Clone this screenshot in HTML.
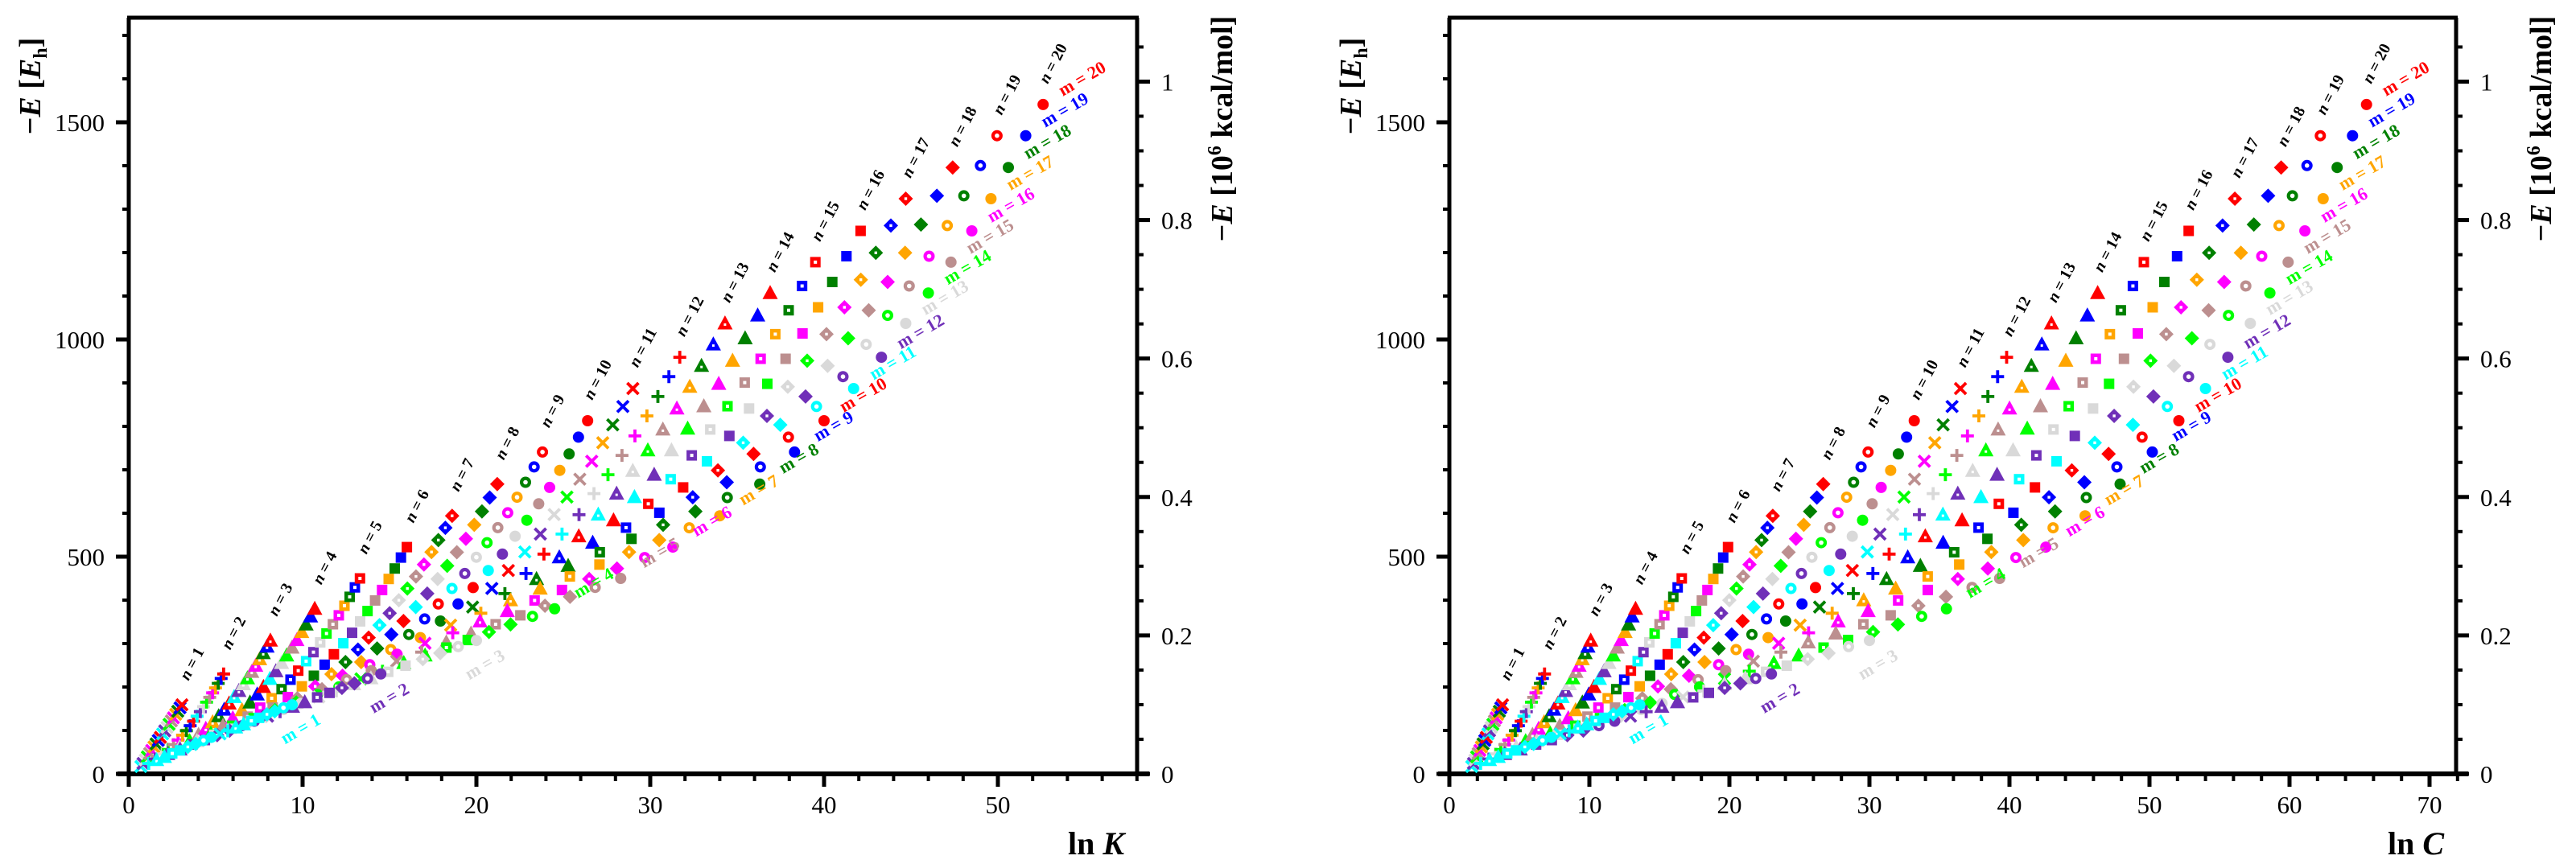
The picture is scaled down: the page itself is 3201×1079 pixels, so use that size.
<!DOCTYPE html>
<html><head><meta charset="utf-8">
<style>
html,body{margin:0;padding:0;background:#fff;}
svg{display:block;}
text{font-family:"Liberation Serif","DejaVu Serif",serif;}
</style></head>
<body>
<svg id="chart" width="3201" height="1079" viewBox="0 0 3201 1079" xmlns="http://www.w3.org/2000/svg">
<g id="panelL"></g>
<g id="panelR"></g>
</svg>
<script>
// ---- data ----
const nValues = [1,2,3,4,5,6,7,8,9,10,11,12,13,14,15,16,17,18,19,20];
const mValues = [1,2,3,4,5,6,7,8,9,10,11,12,13,14,15,16,17,18,19,20];
// energy along edges (shared): E(n,20) per n  and E(1,m) per m
const edgeTopE = [159,230,307,380,450,522,594,667,741,813,887,959,1037,1107,1178,1250,1324,1396,1469,1541];
const edgeN1E  = [17,24,32,39,47,54,62,69,77,84,92,99,107,114,122,129,137,144,152,159];
// left panel ln K edges
const leftTopX = [3.06,5.46,8.15,10.7,13.3,16.0,18.6,21.2,23.8,26.4,29.0,31.7,34.3,36.9,39.5,42.1,44.7,47.4,49.95,52.6];
const leftEndX = [9.4,14.5,20.0,24.5,28.3,31.3,34.0,36.3,38.3,40.0,41.7,43.3,44.7,46.0,47.3,48.5,49.6,50.6,51.6,52.6];
const leftN1X  = [0.7,0.82,0.95,1.07,1.2,1.32,1.45,1.57,1.7,1.82,1.95,2.07,2.2,2.32,2.45,2.57,2.7,2.82,2.95,3.06];
const leftM1X  = [0.7,1.15,1.6,2.05,2.5,2.95,3.4,3.85,4.3,4.75,5.25,5.7,6.15,6.6,7.05,7.5,7.95,8.4,8.9,9.4];
// right panel ln C edges
const rightTopX = [3.8,6.8,10.1,13.3,16.6,19.9,23.1,26.7,29.9,33.2,36.5,39.8,43.0,46.3,49.6,52.8,56.1,59.4,62.2,65.5];
const rightEndX = [13.6,23.0,30.0,35.5,39.3,42.6,45.4,47.9,50.2,52.1,54.0,55.6,57.2,58.6,59.9,61.1,62.4,63.4,64.5,65.5];
const rightN1X  = [1.6,1.72,1.83,1.95,2.06,2.18,2.29,2.41,2.53,2.64,2.76,2.87,2.99,3.11,3.22,3.34,3.45,3.57,3.68,3.8];
const rightM1X  = [1.6,2.23,2.86,3.49,4.13,4.76,5.39,6.02,6.65,7.28,7.92,8.55,9.18,9.81,10.44,11.07,11.71,12.34,12.97,13.6];
// axis ticks
const yTicksMajor = [0,500,1000,1500];
const kcalTicks = ["0","0.2","0.4","0.6","0.8","1"];
const leftXTicks = [0,10,20,30,40,50];
const rightXTicks = [0,10,20,30,40,50,60,70];

const colors = ["#00ffff","#7030b8","#d9d9d9","#00ff00","#bc8f8f","#ff00ff","#ffa500","#008000","#0000ff","#ff0000"];
const shapes = ["x","plus","tridot","tri","sqdot","sq","diadot","dia","circdot","circ"];
const NS="http://www.w3.org/2000/svg";
function mk(tag,attrs,parent){const e=document.createElementNS(NS,tag);for(const k in attrs)e.setAttribute(k,attrs[k]);parent.appendChild(e);return e;}

function drawPanel(g,cfg){
  const yE=e=>962-e*0.54;
  const xS=v=>cfg.x0+v*cfg.sx;
  const L=cfg.x0, R=cfg.xr;
  let a;
  a=mk('line',{x1:L,y1:22,x2:L,y2:962,stroke:'#000','stroke-width':5},g);
  
  a=mk('line',{x1:R,y1:22,x2:R,y2:962,stroke:'#000','stroke-width':5},g);
  
  a=mk('line',{x1:L-2,y1:22,x2:R+2,y2:22,stroke:'#000','stroke-width':5},g);
  
  a=mk('line',{x1:L-14,y1:962,x2:R+15,y2:962,stroke:'#000','stroke-width':6},g);
  
  for(let e=0;e<=1700;e+=100){
    const maj=e%500===0;
    mk('line',{x1:L-(maj?16:8),y1:yE(e),x2:L,y2:yE(e),stroke:'#000','stroke-width':maj?5:4},g);
  }
  yTicksMajor.forEach(e=>{
    const t=mk('text',{x:L-30,y:yE(e)+11,'font-size':31,'text-anchor':'end'},g);
    t.textContent=String(e);
    
  });
  const kc=1593.6;
  for(let i=0;i<=21;i++){
    const v=i*0.05, maj=i%4===0;
    mk('line',{x1:R,y1:yE(v*kc),x2:R+(maj?16:8),y2:yE(v*kc),stroke:'#000','stroke-width':maj?5:4},g);
  }
  kcalTicks.forEach((s,i)=>{
    const t=mk('text',{x:R+30,y:yE(i*0.2*kc)+11,'font-size':31,'text-anchor':'start'},g);
    t.textContent=s;
    
  });
  for(let v=0;v<=cfg.xmax;v+=2){
    const maj=v%10===0;
    mk('line',{x1:xS(v),y1:962,x2:xS(v),y2:962+(maj?16:9),stroke:'#000','stroke-width':maj?5:4},g);
  }
  cfg.xticks.forEach(v=>{
    const t=mk('text',{x:xS(v),y:1011,'font-size':31,'text-anchor':'middle'},g);
    t.textContent=String(v);
    
  });
  let t=mk('text',{x:cfg.xlabelX,y:1062,'font-size':40,'font-weight':'bold','text-anchor':'middle'},g);
  t.innerHTML='ln <tspan font-style="italic">'+cfg.sym+'</tspan>';
  
  t=mk('text',{transform:`translate(${L-110},107) rotate(-90)`,'font-size':38,'font-weight':'bold','text-anchor':'middle'},g);
  t.innerHTML='−<tspan font-style="italic">E</tspan> [<tspan font-style="italic">E</tspan><tspan font-size="24" dy="8">h</tspan><tspan dy="-8">]</tspan>';
  
  t=mk('text',{transform:`translate(${R+118},160) rotate(-90)`,'font-size':38,'font-weight':'bold','text-anchor':'middle'},g);
  t.innerHTML='−<tspan font-style="italic">E</tspan> [10<tspan font-size="24" dy="-14">6</tspan><tspan dy="14"> kcal/mol]</tspan>';
  

  const tX=cfg.topX,eX=cfg.endX,nX=cfg.n1X,mX=cfg.m1X;
  function P(i,j){
    const u=i/19,v=j/19;
    const X=(1-u)*nX[j]+u*eX[j]+(1-v)*mX[i]+v*tX[i]
      -((1-u)*(1-v)*nX[0]+u*(1-v)*eX[0]+(1-u)*v*nX[19]+u*v*eX[19]);
    const Y=(1-u)*edgeN1E[j]+u*edgeTopE[j]+(1-v)*edgeN1E[i]+v*edgeTopE[i]
      -((1-u)*(1-v)*edgeN1E[0]+u*(1-v)*edgeTopE[0]+(1-u)*v*edgeN1E[19]+u*v*edgeTopE[19]);
    return [xS(X),yE(Y)];
  }
  const pg=mk('g',{},g);
  
  nValues.forEach((n,i)=>{
    mValues.forEach((m,j)=>{
      const [px,py]=P(i,j);
      const col=colors[(m-1)%10], sh=shapes[(n-1)%10];
      const el=marker(pg,sh,col,px,py);
      
      
    });
  });
  nValues.forEach((n,i)=>{
    const [px,py]=P(i,19);
    const t=mk('text',{transform:`translate(${px+18},${py-48}) rotate(-62)`,'font-size':20,'font-weight':'bold','text-anchor':'middle'},g);
    t.innerHTML='<tspan font-style="italic">n</tspan> = '+n;
    
  });
  mValues.forEach((m,j)=>{
    const [px,py]=P(19,j);
    const dx=m<=3?14:52, dy=m<=3?36:-26;
    const t=mk('text',{transform:`translate(${px+dx},${py+dy}) rotate(-30)`,'font-size':22,'font-weight':'bold','text-anchor':'middle',fill:colors[(m-1)%10]},g);
    t.textContent='m = '+m;
    
  });
}
function marker(p,sh,c,x,y){
  const g=mk('g',{transform:`translate(${x.toFixed(1)},${y.toFixed(1)})`},p);
  const s=7;
  if(sh==='x'){mk('path',{d:`M${-s} ${-s}L${s} ${s}M${-s} ${s}L${s} ${-s}`,stroke:c,'stroke-width':3.8},g);}
  else if(sh==='plus'){mk('path',{d:`M${-s-1} 0H${s+1}M0 ${-s-1}V${s+1}`,stroke:c,'stroke-width':3.8},g);}
  else if(sh==='tri'||sh==='tridot'){mk('path',{d:'M0 -10L9.5 7.5H-9.5Z',fill:c},g);if(sh==='tridot')mk('rect',{x:-1.5,y:0,width:3,height:3,fill:'#fff'},g);}
  else if(sh==='sq'||sh==='sqdot'){mk('rect',{x:-6.5,y:-6.5,width:13,height:13,fill:c},g);if(sh==='sqdot')mk('rect',{x:-2,y:-2,width:4,height:4,fill:'#fff'},g);}
  else if(sh==='dia'||sh==='diadot'){mk('path',{d:'M0 -9L9 0L0 9L-9 0Z',fill:c},g);if(sh==='diadot')mk('rect',{x:-1.7,y:-1.7,width:3.4,height:3.4,fill:'#fff'},g);}
  else {mk('circle',{r:7,fill:c},g);if(sh==='circdot')mk('circle',{r:2.8,fill:'#fff'},g);}
  return g;
}
drawPanel(document.getElementById('panelL'),{x0:160,sx:21.6,xr:1413,xmax:58,xticks:leftXTicks,xlabelX:1362,sym:'K',topX:leftTopX,endX:leftEndX,n1X:leftN1X,m1X:leftM1X});
drawPanel(document.getElementById('panelR'),{x0:1801,sx:17.4,xr:3052,xmax:72,xticks:rightXTicks,xlabelX:3002,sym:'C',topX:rightTopX,endX:rightEndX,n1X:rightN1X,m1X:rightM1X});
</script>
</body></html>
